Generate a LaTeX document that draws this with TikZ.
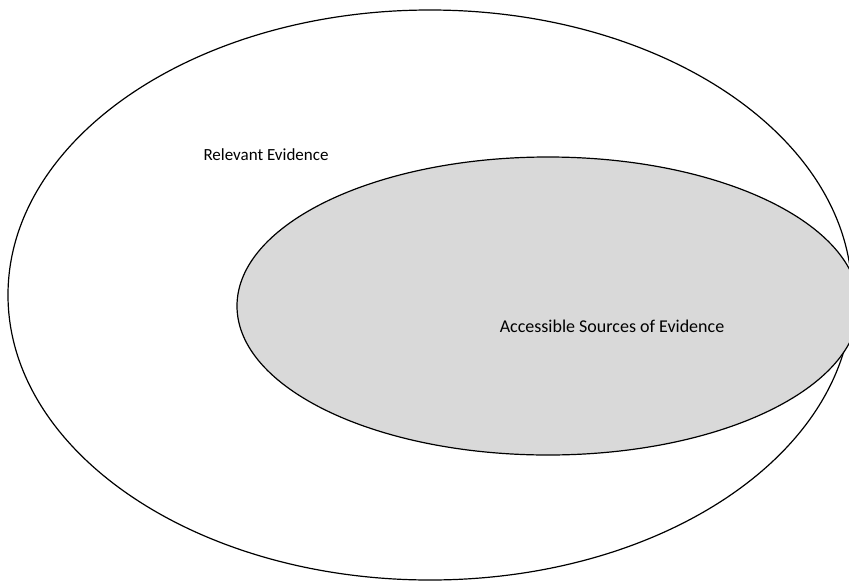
\documentclass[tikz,border=0pt]{standalone}
\usepackage{fontspec}
\setmainfont{Carlito}
\usetikzlibrary{shapes.geometric}
\definecolor{innerfill}{HTML}{D9D9D9}
\tikzset{
  ring/.style={draw=black, line width=1.2pt},
  lbl/.style={font=\fontsize{17}{20}\selectfont, text=black, inner sep=0pt}
}
\begin{document}
\begin{tikzpicture}[x=1pt,y=-1pt]
\useasboundingbox (0,0) rectangle (849,584);
\clip (0,0) rectangle (849,584);
\fill[white] (0,0) rectangle (849,584);
\draw[ring] (430,295) ellipse [x radius=422, y radius=285];
\draw[ring, fill=innerfill] (548,306) ellipse [x radius=311, y radius=149];
\node[lbl] (rel) at (266,155) {Relevant Evidence};
\node[lbl, font=\fontsize{18}{21}\selectfont] (acc) at (612,326) {Accessible Sources of Evidence};
\end{tikzpicture}
\end{document}
